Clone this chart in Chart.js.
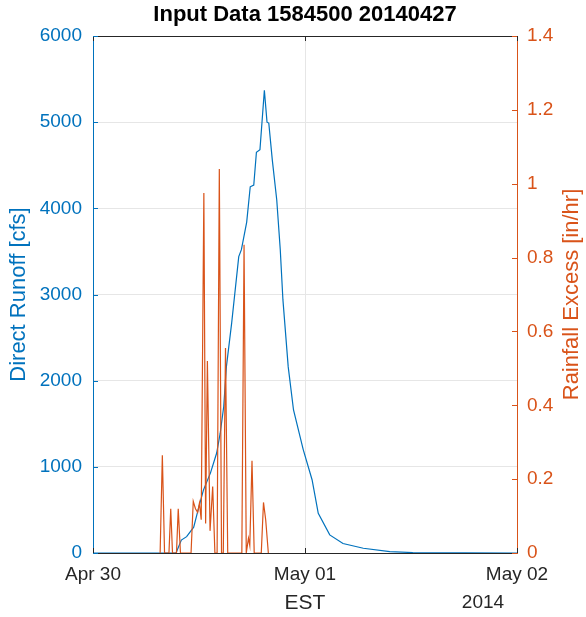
<!DOCTYPE html>
<html>
<head>
<meta charset="utf-8">
<script src="https://cdn.jsdelivr.net/npm/chart.js@4/dist/chart.umd.min.js"></script>
<style>
  html, body { margin: 0; padding: 0; background: #fff; }
  #wrap { width: 586px; height: 617px; }
</style>
</head>
<body>
<div id="wrap"><canvas id="chart" width="586" height="617"></canvas></div>
<script>
const chartTitle = 'Input Data 1584500 20140427';
const xTitle = 'EST';
const yearLabel = '2014';
const leftTitle = 'Direct Runoff [cfs]';
const rightTitle = 'Rainfall Excess [in/hr]';

// x ticks every 24 h from Apr 30 00:00 EST
const dayLabels = ['Apr 30', 'May 01', 'May 02'];
const runoffTickLabels = ['0', '1000', '2000', '3000', '4000', '5000', '6000'];
const rainTickLabels = ['0', '0.2', '0.4', '0.6', '0.8', '1', '1.2', '1.4'];

// direct runoff, hours after Apr 30 00:00
const runoffHours = [0, 9.4, 10.0, 10.6, 11.4, 11.9, 12.5, 13.3, 14.0, 14.4, 14.8, 15.1, 15.7, 16.5, 16.8, 17.4, 17.8, 18.2, 18.5, 18.9, 19.4, 19.7, 19.9, 20.3, 20.8, 21.2, 21.5, 22.1, 22.7, 23.8, 24.8, 25.5, 26.8, 28.3, 30.6, 33.6, 36.2, 48];
const runoffCfs = [0, 0, 150, 190, 300, 500, 730, 930, 1160, 1390, 1700, 2160, 2670, 3440, 3520, 3840, 4250, 4270, 4650, 4680, 5370, 5000, 4990, 4560, 4100, 3520, 2940, 2160, 1660, 1200, 850, 460, 210, 110, 55, 15, 5, 0];

// rainfall excess
const rainHours = [7.6, 7.85, 8.1, 8.6, 8.8, 9.0, 9.45, 9.65, 9.9, 11.1, 11.35, 11.6, 11.85, 12.05, 12.25, 12.55, 12.75, 12.95, 13.25, 13.55, 13.8, 14.05, 14.3, 14.55, 14.75, 15.0, 15.25, 16.85, 17.1, 17.35, 17.6, 17.75, 18.0, 18.25, 19.05, 19.3, 19.55, 19.85];
const rainInHr = [0, 0.265, 0, 0, 0.12, 0, 0, 0.12, 0, 0, 0.14, 0.12, 0.11, 0.135, 0.09, 0.975, 0.08, 0.52, 0.06, 0.18, 0, 0, 1.04, 0, 0, 0.555, 0, 0, 0.835, 0, 0.04, 0.02, 0.25, 0, 0, 0.137, 0.09, 0];

const blue = '#0072BD';
const orange = '#D95319';
const dark = '#262626';
const gridCol = '#e6e6e6';
const fontName = '"Liberation Sans", Arial, sans-serif';

// matlab-ish extras: title, top box line, inward ticks, year, right label
const extras = {
  id: 'extras',
  afterDraw(chart) {
    const { ctx, chartArea: a, scales } = chart;
    ctx.save();
    ctx.lineWidth = 1;

    ctx.strokeStyle = dark;
    ctx.beginPath();
    ctx.moveTo(a.left, a.top + 0.5);
    ctx.lineTo(a.right, a.top + 0.5);
    ctx.stroke();

    // tick marks pointing inside
    scales.x.ticks.forEach(t => {
      const px = Math.round(scales.x.getPixelForValue(t.value)) + 0.5;
      ctx.beginPath();
      ctx.moveTo(px, a.bottom); ctx.lineTo(px, a.bottom - 5);
      ctx.moveTo(px, a.top); ctx.lineTo(px, a.top + 5);
      ctx.stroke();
    });
    ctx.strokeStyle = blue;
    scales.y.ticks.forEach(t => {
      const py = Math.round(scales.y.getPixelForValue(t.value)) + 0.5;
      ctx.beginPath(); ctx.moveTo(a.left, py); ctx.lineTo(a.left + 5, py); ctx.stroke();
    });
    ctx.strokeStyle = orange;
    scales.yR.ticks.forEach(t => {
      const py = Math.round(scales.yR.getPixelForValue(t.value)) + 0.5;
      ctx.beginPath(); ctx.moveTo(a.right, py); ctx.lineTo(a.right - 5, py); ctx.stroke();
    });

    ctx.textAlign = 'center';
    ctx.textBaseline = 'middle';
    ctx.fillStyle = '#000';
    ctx.font = 'bold 22px ' + fontName;
    ctx.fillText(chartTitle, (a.left + a.right) / 2, 15);

    ctx.fillStyle = dark;
    ctx.font = '19px ' + fontName;
    ctx.fillText(yearLabel, a.right - 34, 603);

    ctx.translate(572, (a.top + a.bottom) / 2);
    ctx.rotate(-Math.PI / 2);
    ctx.fillStyle = orange;
    ctx.font = '22px ' + fontName;
    ctx.fillText(rightTitle, 0, 0);
    ctx.restore();
  }
};

new Chart(document.getElementById('chart'), {
  type: 'line',
  data: {
    datasets: [
      {
        label: 'Rainfall Excess',
        data: rainHours.map((h, i) => ({ x: h, y: rainInHr[i] })),
        yAxisID: 'yR',
        borderColor: orange,
        borderWidth: 1.2,
        pointRadius: 0,
        tension: 0,
        order: 0
      },
      {
        label: 'Direct Runoff',
        data: runoffHours.map((h, i) => ({ x: h, y: runoffCfs[i] })),
        yAxisID: 'y',
        borderColor: blue,
        borderWidth: 1.2,
        pointRadius: 0,
        tension: 0,
        order: 1
      }
    ]
  },
  options: {
    responsive: false,
    animation: false,
    layout: { padding: { top: 36, left: 0, right: 0, bottom: 0 } },
    plugins: { legend: { display: false }, tooltip: { enabled: false }, title: { display: false } },
    scales: {
      x: {
        type: 'linear',
        min: 0, max: 48,
        afterFit: s => { s.height = 64; },
        ticks: {
          stepSize: 24, autoSkip: false, maxRotation: 0, padding: 10,
          color: dark, font: { family: fontName, size: 19 },
          callback: (v, i) => dayLabels[i]
        },
        grid: { color: gridCol, drawTicks: false },
        border: { color: dark, width: 1 },
        title: { display: true, text: xTitle, color: dark, font: { family: fontName, size: 21 }, padding: { top: 0, bottom: 1 } }
      },
      y: {
        position: 'left',
        min: 0, max: 6000,
        afterFit: s => { s.width = 93; },
        ticks: {
          stepSize: 1000, padding: 11,
          color: blue, font: { family: fontName, size: 19 },
          callback: (v, i) => runoffTickLabels[i]
        },
        grid: { color: gridCol, drawTicks: false },
        border: { color: blue, width: 1 },
        title: { display: true, text: leftTitle, color: blue, font: { family: fontName, size: 22 }, padding: { top: 6, bottom: 0 } }
      },
      yR: {
        position: 'right',
        min: 0, max: 1.4,
        afterFit: s => { s.width = 69; },
        ticks: {
          stepSize: 0.2, padding: 10,
          color: orange, font: { family: fontName, size: 19 },
          callback: (v, i) => rainTickLabels[i]
        },
        grid: { drawOnChartArea: false, drawTicks: false },
        border: { color: orange, width: 1 }
      }
    }
  },
  plugins: [extras]
});
</script>
</body>
</html>
